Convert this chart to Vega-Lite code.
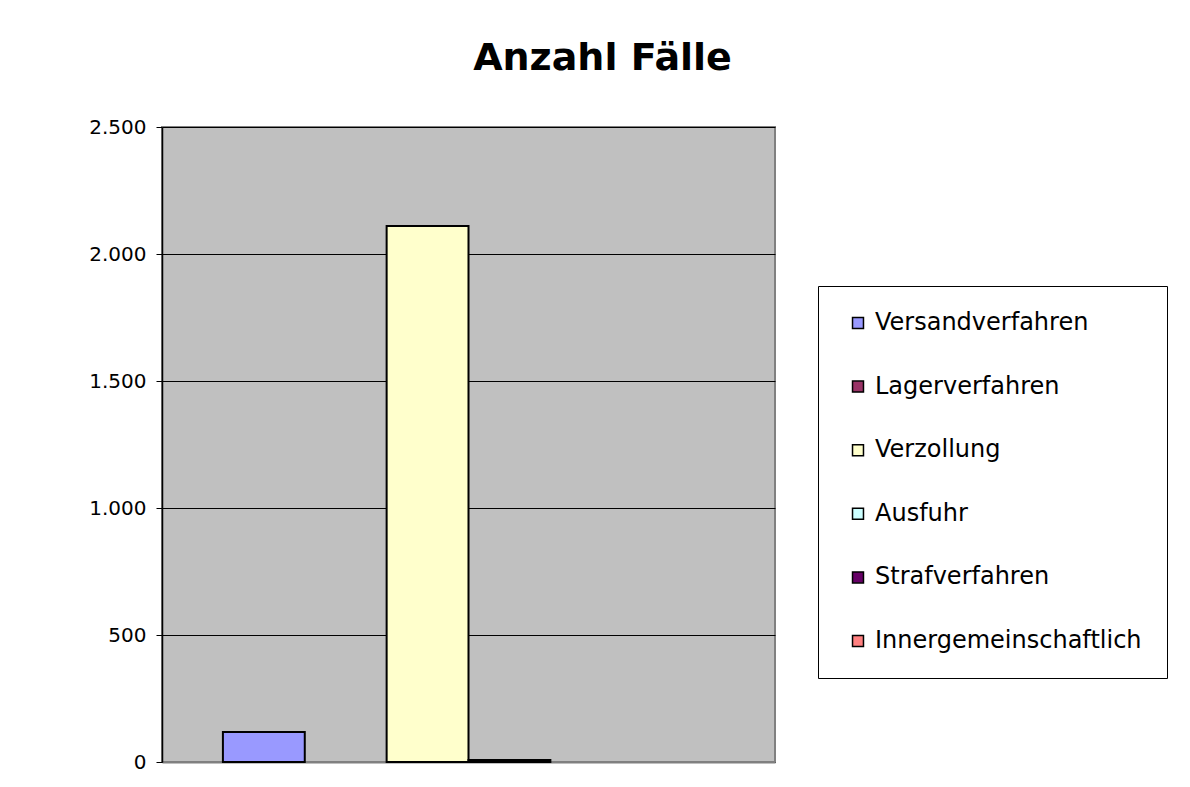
{
  "$schema": "https://vega.github.io/schema/vega-lite/v6.json",
  "autosize": {"type": "none"},
  "padding": {"left": 162, "top": 127, "right": 415, "bottom": 25},
  "width": 613,
  "height": 635,
  "background": "white",
  "config": {
    "locale": {"number": {"decimal": ",", "thousands": ".", "grouping": [3], "currency": ["", " €"]}},
    "font": "DejaVu Sans",
    "view": {"fill": "#C0C0C0", "stroke": "#808080", "strokeWidth": 2}
  },
  "title": {
    "text": "Anzahl Fälle",
    "fontSize": 38,
    "fontWeight": "bold",
    "font": "DejaVu Sans",
    "color": "black",
    "anchor": "middle",
    "dx": 134,
    "baseline": "alphabetic",
    "offset": 9
  },
  "data": {
    "values": [
      {"verfahren": "Versandverfahren", "faelle": 118},
      {"verfahren": "Lagerverfahren", "faelle": 0},
      {"verfahren": "Verzollung", "faelle": 2110},
      {"verfahren": "Ausfuhr", "faelle": 8},
      {"verfahren": "Strafverfahren", "faelle": 0},
      {"verfahren": "Innergemeinschaftlich", "faelle": 0}
    ]
  },
  "transform": [{"filter": "datum.faelle > 0"}],
  "mark": {"type": "bar", "stroke": "black", "strokeWidth": 2, "opacity": 1},
  "encoding": {
    "x": {
      "field": "verfahren",
      "type": "nominal",
      "sort": ["Versandverfahren", "Lagerverfahren", "Verzollung", "Ausfuhr", "Strafverfahren", "Innergemeinschaftlich"],
      "scale": {
        "domain": ["Versandverfahren", "Lagerverfahren", "Verzollung", "Ausfuhr", "Strafverfahren", "Innergemeinschaftlich"],
        "paddingInner": 0,
        "paddingOuter": 0.744
      },
      "axis": {"labels": false, "ticks": false, "title": null, "domainColor": "#808080", "domainWidth": 2}
    },
    "y": {
      "field": "faelle",
      "type": "quantitative",
      "scale": {"domain": [0, 2500], "nice": false},
      "axis": {
        "values": [0, 500, 1000, 1500, 2000, 2500],
        "format": ",d",
        "title": null,
        "labelFontSize": 20,
        "labelColor": "black",
        "labelPadding": 10,
        "tickColor": "black",
        "tickSize": 6,
        "domainColor": "black",
        "domainWidth": 1.5,
        "gridColor": "black",
        "gridWidth": 1,
        "gridOpacity": 1
      }
    },
    "color": {
      "field": "verfahren",
      "type": "nominal",
      "scale": {
        "domain": ["Versandverfahren", "Lagerverfahren", "Verzollung", "Ausfuhr", "Strafverfahren", "Innergemeinschaftlich"],
        "range": ["#9999FF", "#993366", "#FFFFCC", "#CCFFFF", "#660066", "#FF8080"]
      },
      "legend": {
        "title": null,
        "orient": "none",
        "legendX": 656,
        "legendY": 159,
        "padding": 25,
        "symbolOffset": 3,
        "fillColor": "white",
        "strokeColor": "black",
        "symbolType": "square",
        "symbolSize": 120,
        "symbolStrokeColor": "black",
        "symbolStrokeWidth": 1.5,
        "symbolOpacity": 1,
        "labelFontSize": 24,
        "labelColor": "black",
        "labelOffset": 5,
        "labelLimit": 400,
        "rowPadding": 39.6
      }
    }
  }
}
